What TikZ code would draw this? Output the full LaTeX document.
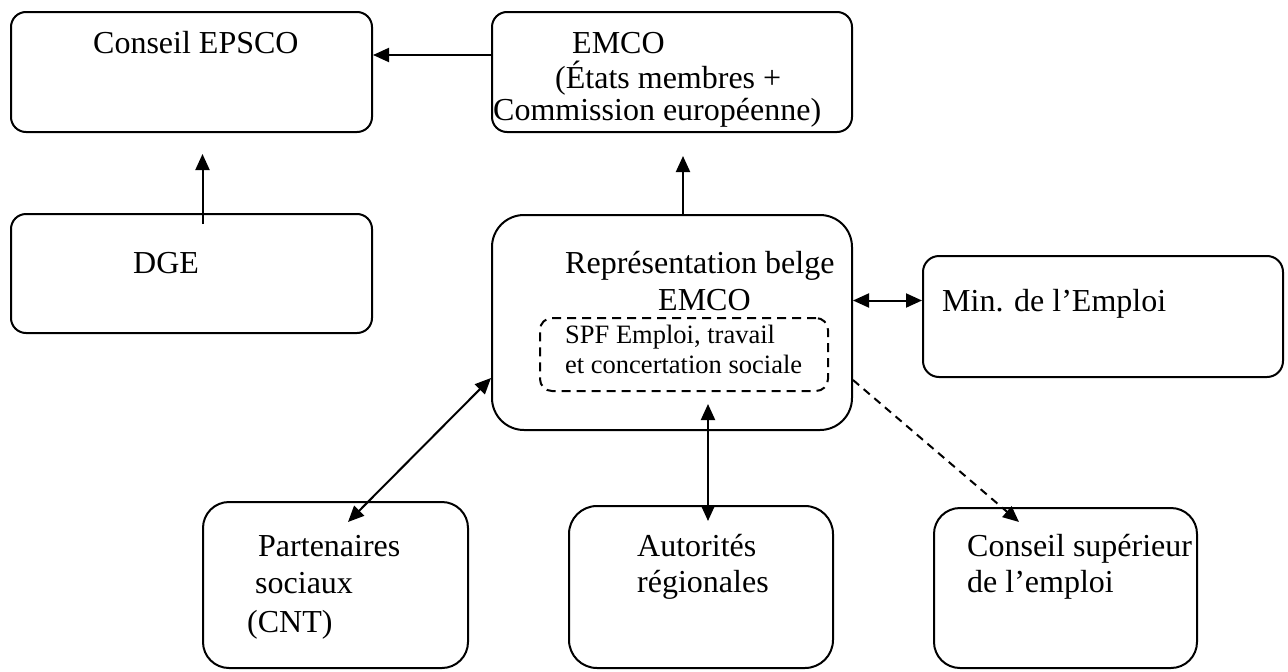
\documentclass[tikz,border=0pt]{standalone}
\usepackage{fontspec}
\setmainfont{Liberation Serif}
\usetikzlibrary{arrows.meta}

\tikzset{
  box/.style={draw, line width=2pt, rounded corners=#1, inner sep=0pt},
  box/.default=15pt,
  spfbox/.style={box=12pt, dash pattern=on 9pt off 6pt},
  txt/.style={anchor=base west, inner sep=0pt, font=\fontsize{32}{38}\selectfont},
  smalltxt/.style={txt, font=\fontsize{26.5}{30}\selectfont},
  arr/.style={line width=2pt, -{Triangle[length=16pt,width=14pt]}},
  dblarr/.style={line width=2pt, {Triangle[length=16pt,width=14pt]}-{Triangle[length=16pt,width=14pt]}},
  dasharr/.style={arr, dash pattern=on 8pt off 6pt}
}

\begin{document}
\begin{tikzpicture}[x=1pt, y=-1pt]
\useasboundingbox (0,0) rectangle (1288,672);
% boxes
\node [box, minimum width=361pt, minimum height=120pt] (epsco) at (191.5,72) {};
\node [box, minimum width=360pt, minimum height=120pt] (emco) at (672,72) {};
\node [box, minimum width=361pt, minimum height=119pt] (dge) at (191.5,273.5) {};
\node [box=32pt, minimum width=360pt, minimum height=215pt] (rep) at (672,322.5) {};
\node [spfbox, minimum width=288pt, minimum height=73pt] (spf) at (684,354.5) {};
\node [box=16pt, minimum width=360pt, minimum height=121pt] (min) at (1103,316.5) {};
\node [box=26pt, minimum width=265pt, minimum height=166pt] (part) at (335.5,585) {};
\node [box=28pt, minimum width=264pt, minimum height=162pt] (auto) at (701,587) {};
\node [box=26pt, minimum width=263pt, minimum height=160pt] (csup) at (1065.5,588) {};
% texts
\node [txt] (epscoa) at (93,53) {Conseil EPSCO};
\node [txt] (emcoa) at (572,53) {EMCO};
\node [txt] (emcob) at (555,88) {(États membres +};
\node [txt] (emcoc) at (493,120) {Commission européenne)};
\node [txt] (dgea) at (133,273) {DGE};
\node [txt] (repa) at (565,273) {Représentation belge};
\node [txt] (repb) at (658,310) {EMCO};
\node [smalltxt] (spfa) at (565,343) {SPF Emploi, travail};
\node [smalltxt] (spfb) at (565,373) {et concertation sociale};
\node [txt] (mina) at (942,311) {Min. de l’Emploi};
\node [txt] (parta) at (258,556) {Partenaires};
\node [txt] (partb) at (255,593) {sociaux};
\node [txt] (partc) at (247,632) {(CNT)};
\node [txt] (autoa) at (637,556) {Autorités};
\node [txt] (autob) at (637,592) {régionales};
\node [txt] (csupa) at (967,556) {Conseil supérieur};
\node [txt] (csupb) at (967,592) {de l’emploi};
% arrows
\draw [arr] ([yshift=17pt]emco.west) -- ([yshift=17pt]epsco.east);
\draw [arr] ([xshift=11pt,yshift=-11pt]dge.north) -- ([xshift=11pt,yshift=-21pt]epsco.south);
\draw [arr] (rep.north) ++(11pt,0) -- ([xshift=11pt,yshift=-23pt]emco.south);
\draw [dblarr] ([yshift=22pt]rep.east) -- ([yshift=16pt]min.west);
\draw [dblarr] ([xshift=12.5pt,yshift=-21pt]part.north) -- ([yshift=-55.5pt]rep.west);
\draw [dblarr] ([xshift=36pt,yshift=27pt]rep.south) -- ([xshift=7pt,yshift=-16pt]auto.north);
\draw [dasharr] ([yshift=-57.5pt]rep.east) -- ([xshift=-46.5pt,yshift=-15pt]csup.north);
\end{tikzpicture}
\end{document}
